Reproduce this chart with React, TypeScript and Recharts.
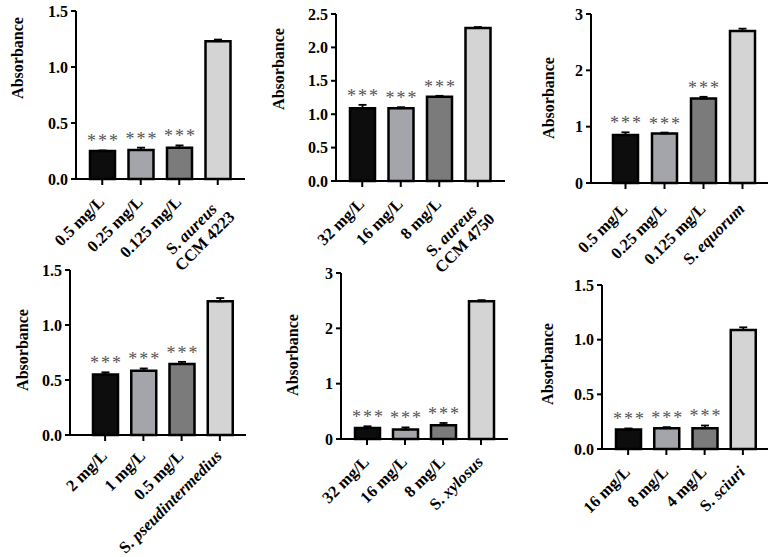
import React from 'react';
import { BarChart, Bar, Cell, XAxis, YAxis, ErrorBar, LabelList, Label } from 'recharts';

const FONT = '"Liberation Serif", "Times New Roman", serif';
const BAR_COLORS = ['#0d0d0d', '#a4a4ab', '#7b7b7b', '#d4d4d4'];
const SIG = ['***', '***', '***', ''];

// S. aureus CCM 4223
const aureus4223Labels = ['0.5 mg/L', '0.25 mg/L', '0.125 mg/L', 'S. aureus\nCCM 4223'];
const aureus4223Values = [0.25, 0.26, 0.28, 1.23];
const aureus4223Errors = [0.005, 0.02, 0.02, 0.015];

// S. aureus CCM 4750
const aureus4750Labels = ['32 mg/L', '16 mg/L', '8 mg/L', 'S. aureus\nCCM 4750'];
const aureus4750Values = [1.09, 1.09, 1.26, 2.29];
const aureus4750Errors = [0.05, 0.015, 0.015, 0.015];

// S. equorum
const equorumLabels = ['0.5 mg/L', '0.25 mg/L', '0.125 mg/L', 'S. equorum'];
const equorumValues = [0.85, 0.88, 1.5, 2.7];
const equorumErrors = [0.05, 0.015, 0.03, 0.04];

// S. pseudintermedius
const pseudLabels = ['2 mg/L', '1 mg/L', '0.5 mg/L', 'S. pseudintermedius'];
const pseudValues = [0.55, 0.585, 0.645, 1.215];
const pseudErrors = [0.02, 0.02, 0.02, 0.03];

// S. xylosus
const xylosusLabels = ['32 mg/L', '16 mg/L', '8 mg/L', 'S. xylosus'];
const xylosusValues = [0.2, 0.17, 0.25, 2.49];
const xylosusErrors = [0.03, 0.04, 0.04, 0.02];

// S. sciuri
const sciuriLabels = ['16 mg/L', '8 mg/L', '4 mg/L', 'S. sciuri'];
const sciuriValues = [0.178, 0.19, 0.19, 1.088];
const sciuriErrors = [0.01, 0.01, 0.025, 0.025];

type PanelSpec = {
  labels: string[];
  values: number[];
  errors: number[];
  ticks: number[];
  digits: number;
  x0: number; x1: number; yTop: number; yBot: number;
  padL: number; padR: number;
  titleX: number; titleY: number;
  tickDy: number;
};

const panels: PanelSpec[] = [
  { labels: aureus4223Labels, values: aureus4223Values, errors: aureus4223Errors, ticks: [0, 0.5, 1, 1.5], digits: 1,
    x0: 76, x1: 245, yTop: 11, yBot: 179, padL: 7, padR: 8, titleX: 17, titleY: 58, tickDy: 16 },
  { labels: aureus4750Labels, values: aureus4750Values, errors: aureus4750Errors, ticks: [0, 0.5, 1, 1.5, 2, 2.5], digits: 1,
    x0: 336, x1: 505, yTop: 14, yBot: 181, padL: 7, padR: 8, titleX: 278, titleY: 69, tickDy: 16 },
  { labels: equorumLabels, values: equorumValues, errors: equorumErrors, ticks: [0, 1, 2, 3], digits: 0,
    x0: 591, x1: 768, yTop: 14, yBot: 183, padL: 15, padR: 6, titleX: 548, titleY: 98, tickDy: 19 },
  { labels: pseudLabels, values: pseudValues, errors: pseudErrors, ticks: [0, 0.5, 1, 1.5], digits: 1,
    x0: 70, x1: 246, yTop: 270, yBot: 435, padL: 16, padR: 7, titleX: 22, titleY: 350, tickDy: 14 },
  { labels: xylosusLabels, values: xylosusValues, errors: xylosusErrors, ticks: [0, 1, 2, 3], digits: 0,
    x0: 341, x1: 508, yTop: 273, yBot: 439, padL: 7, padR: 8, titleX: 292, titleY: 355, tickDy: 16 },
  { labels: sciuriLabels, values: sciuriValues, errors: sciuriErrors, ticks: [0, 0.5, 1, 1.5], digits: 1,
    x0: 602, x1: 768, yTop: 285, yBot: 449, padL: 7, padR: 6, titleX: 547, titleY: 364, tickDy: 16 },
];

const Y_AXIS_W = 40;
const M_LEFT = 36;
const M_TOP = 12;
const M_RIGHT = 6;
const X_AXIS_H = 122;

// "S. name" -> upright genus initial, italic species
const speciesParts = (line: string) => {
  if (!line.startsWith('S. ')) return line;
  return [
    <tspan key="g">S. </tspan>,
    <tspan key="s" fontStyle="italic">{line.slice(3)}</tspan>,
  ];
};

const CategoryTick = (props: any) => {
  const { x, y, payload, dy } = props;
  const lines = String(payload.value).split('\n');
  const multi = lines.length > 1;
  return (
    <g transform={`translate(${x + 3},${y + dy})`}>
      <text transform="rotate(-45)" textAnchor="end" fontFamily={FONT} fontWeight={700} fontSize={16.5} fill="#000">
        {lines.map((line, i) => (
          <tspan key={i} x={multi && i === 0 ? -7 : 0} y={multi ? (i === 0 ? 3 : 21) : 0}>
            {speciesParts(line)}
          </tspan>
        ))}
      </text>
    </g>
  );
};

const starsLabel = (values: number[], errors: number[]) => (props: any) => {
  const { index, value } = props;
  if (!value) return null;
  const vb = props.viewBox ?? props;
  const x = vb.x ?? props.x;
  const y = vb.y ?? props.y;
  const width = vb.width ?? props.width;
  const height = vb.height ?? props.height;
  const pxPerUnit = height / values[index];
  const top = y - errors[index] * pxPerUnit;
  return (
    <text x={x + width / 2 + 1} y={top - 3} textAnchor="middle" fontFamily={FONT} fontSize={18} fill="#555" letterSpacing={2}>
      {value}
    </text>
  );
};

const Panel = ({ spec }: { spec: PanelSpec }) => {
  const left = spec.x0 - (M_LEFT + Y_AXIS_W);
  const top = spec.yTop - M_TOP;
  const width = spec.x1 - left + M_RIGHT;
  const height = spec.yBot - top + X_AXIS_H;
  const data = spec.labels.map((name, i) => ({
    name,
    value: spec.values[i],
    err: [0, spec.errors[i]],
    sig: SIG[i],
  }));
  const tx = spec.titleX - left;
  const ty = spec.titleY - top;

  return (
    <div style={{ position: 'absolute', left, top }}>
      <BarChart width={width} height={height} data={data} margin={{ top: M_TOP, right: M_RIGHT, left: M_LEFT, bottom: 0 }}>
        <XAxis
          dataKey="name"
          height={X_AXIS_H}
          interval={0}
          padding={{ left: spec.padL, right: spec.padR }}
          axisLine={{ stroke: '#000', strokeWidth: 2 }}
          tickLine={{ stroke: '#000', strokeWidth: 2 }}
          tickSize={6}
          tick={<CategoryTick dy={spec.tickDy} />}
        />
        <YAxis
          width={Y_AXIS_W}
          domain={[0, spec.ticks[spec.ticks.length - 1]]}
          ticks={spec.ticks}
          interval={0}
          tickFormatter={(v: number) => v.toFixed(spec.digits)}
          axisLine={{ stroke: '#000', strokeWidth: 2 }}
          tickLine={{ stroke: '#000', strokeWidth: 2 }}
          tickSize={5}
          tickMargin={3}
          tick={{ fill: '#000', fontSize: 16, fontWeight: 700, fontFamily: FONT }}
        >
          <Label
            content={() => (
              <text
                x={tx}
                y={ty}
                transform={`rotate(-90, ${tx}, ${ty})`}
                textAnchor="middle"
                dominantBaseline="central"
                fontFamily={FONT}
                fontWeight={700}
                fontSize={16}
                fill="#000"
              >
                Absorbance
              </text>
            )}
          />
        </YAxis>
        <Bar dataKey="value" barSize={25} stroke="#000" strokeWidth={2.5} isAnimationActive={false}>
          {data.map((_, i) => (
            <Cell key={`c-${i}`} fill={BAR_COLORS[i % BAR_COLORS.length]} />
          ))}
          <ErrorBar dataKey="err" width={4} stroke="#000" strokeWidth={1.8} direction="y" />
          <LabelList dataKey="sig" content={starsLabel(spec.values, spec.errors)} />
        </Bar>
      </BarChart>
    </div>
  );
}

export default function App() {
  return (
    <div style={{ position: 'absolute', left: 0, top: 0, width: 777, height: 557, background: '#fff', overflow: 'hidden' }}>
      {panels.map((p, i) => (
        <Panel key={i} spec={p} />
      ))}
    </div>
  );
}
